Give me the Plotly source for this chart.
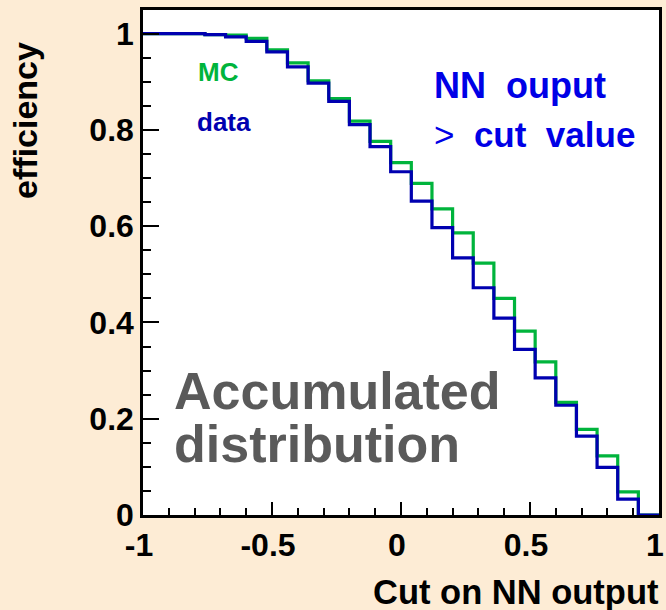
import plotly.graph_objects as go

# Bin edges of the cut scan on the NN output
bin_edges = [-1.00, -0.92, -0.84, -0.76, -0.68, -0.60, -0.52, -0.44, -0.36,
             -0.28, -0.20, -0.12, -0.04, 0.04, 0.12, 0.20, 0.28, 0.36, 0.44,
             0.52, 0.60, 0.68, 0.76, 0.84, 0.92, 1.00]

# Cumulative efficiency for NN output > cut value, one value per bin
eff_mc = [1.000, 1.000, 1.000, 0.998, 0.997, 0.990, 0.966, 0.939, 0.902,
          0.865, 0.818, 0.776, 0.732, 0.689, 0.636, 0.586, 0.523, 0.450,
          0.382, 0.318, 0.234, 0.178, 0.123, 0.048, 0.000]
eff_data = [1.000, 1.000, 1.000, 0.998, 0.993, 0.984, 0.962, 0.931, 0.897,
            0.859, 0.811, 0.765, 0.713, 0.652, 0.597, 0.534, 0.472, 0.409,
            0.344, 0.285, 0.228, 0.164, 0.099, 0.033, 0.000]

x_tick_vals = [-1, -0.5, 0, 0.5, 1]
x_tick_text = ["-1", "-0.5", "0", "0.5", "1"]
y_tick_vals = [0, 0.2, 0.4, 0.6, 0.8, 1]
y_tick_text = ["0", "0.2", "0.4", "0.6", "0.8", "1"]

GREEN = "#00b43c"
BLUE = "#0000b0"
BG = "#fdecd5"
FONT = "Liberation Sans"


def step_xy(edges, vals):
    # histogram outline: repeat the last value so the final bin is drawn
    return list(edges), list(vals) + [vals[-1]]


fig = go.Figure()
for vals, col, name in [(eff_mc, GREEN, "MC"), (eff_data, BLUE, "data")]:
    xs, ys = step_xy(bin_edges, vals)
    fig.add_trace(go.Scatter(x=xs, y=ys, mode="lines", name=name,
                             line=dict(color=col, width=3.2, shape="hv"),
                             showlegend=False))

ann = [
    dict(text="MC", x=-0.795, y=0.92, xanchor="left", yanchor="middle",
         font=dict(size=26, color=GREEN, family=FONT, weight="bold")),
    dict(text="data", x=-0.797, y=0.816, xanchor="left", yanchor="middle",
         font=dict(size=26, color=BLUE, family=FONT, weight="bold")),
    dict(text="NN  ouput", x=0.12, y=0.893, xanchor="left", yanchor="middle",
         font=dict(size=36, color="#0000e6", family=FONT, weight="bold")),
    dict(text="<span style='font-weight:normal'>&gt;</span>  cut  value",
         x=0.12, y=0.79, xanchor="left", yanchor="middle",
         font=dict(size=35, color="#0000e6", family=FONT, weight="bold")),
    dict(text="Accumulated", x=-0.888, y=0.257, xanchor="left", yanchor="middle",
         font=dict(size=52, color="#5a5a5a", family=FONT, weight="bold")),
    dict(text="distribution", x=-0.888, y=0.147, xanchor="left", yanchor="middle",
         font=dict(size=52, color="#5a5a5a", family=FONT, weight="bold")),
]
for a in ann:
    a.update(xref="x", yref="y", showarrow=False)
    fig.add_annotation(**a)

fig.add_annotation(text="efficiency", xref="paper", yref="paper",
                   x=-0.229, y=0.782, textangle=-90, showarrow=False,
                   xanchor="center", yanchor="middle",
                   font=dict(size=34, color="black", family=FONT, weight="bold"))
fig.add_annotation(text="Cut on NN output", xref="paper", yref="paper",
                   x=1.003, y=-0.152, showarrow=False,
                   xanchor="right", yanchor="middle",
                   font=dict(size=34.5, color="black", family=FONT, weight="bold"))

tick_font = dict(size=32, color="black", family=FONT, weight="bold")
fig.update_xaxes(range=[-1, 1], tickvals=x_tick_vals, ticktext=x_tick_text,
                 ticks="inside", ticklen=13, automargin=False,
                 ticklabeloverflow="allow", ticklabelshift=-4,
                 tickwidth=2, tickcolor="black", showgrid=False, zeroline=False,
                 showline=True, linewidth=2.5, linecolor="black", mirror=True,
                 tickfont=tick_font,
                 minor=dict(dtick=0.1, tick0=-1, ticks="inside", ticklen=7,
                            tickwidth=2, tickcolor="black", showgrid=False))
fig.update_yaxes(range=[0, 1.049], tickvals=y_tick_vals, ticktext=y_tick_text,
                 ticks="inside", ticklen=16, automargin=False,
                 ticklabeloverflow="allow",
                 tickwidth=2, tickcolor="black", showgrid=False, zeroline=False,
                 showline=True, linewidth=2.5, linecolor="black", mirror=True,
                 tickfont=tick_font,
                 minor=dict(dtick=0.05, tick0=0, ticks="inside", ticklen=8,
                            tickwidth=2, tickcolor="black", showgrid=False))

fig.update_layout(width=666, height=610, paper_bgcolor=BG, plot_bgcolor="white",
                  margin=dict(l=143, r=7, t=10, b=95), showlegend=False)

fig.write_html("out.html")
